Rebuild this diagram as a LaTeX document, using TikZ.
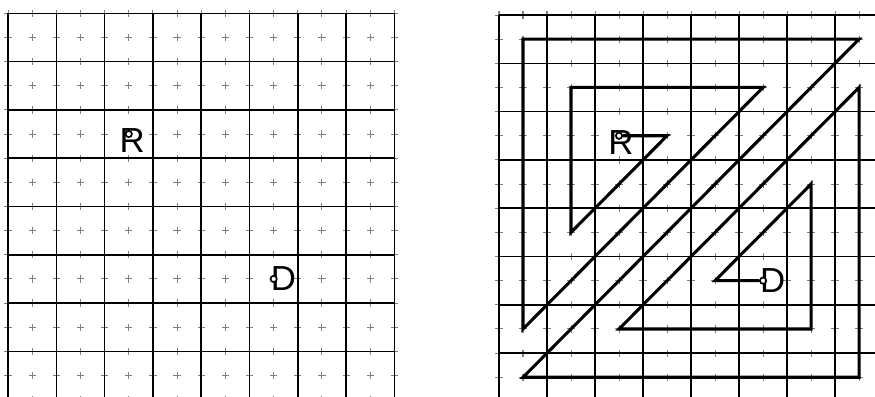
\documentclass[tikz,border=0pt]{standalone}
\usepackage{fontspec}
\setmainfont{Liberation Sans}
\usetikzlibrary{calc}

\begin{document}
\begin{tikzpicture}[
    x=1cm, y=-1cm,
    rejilla/.style={black, line width=0.9pt},
    cruz/.style={gray, line width=0.6pt},
    ruta/.style={black, line width=1.8pt, line join=miter},
    punto/.style={circle, draw=black, fill=white, line width=1pt, inner sep=0pt, minimum size=0.13cm},
    letra/.style={font=\fontsize{20.5}{24}\selectfont, inner sep=0pt}
]
    \useasboundingbox (0,0) rectangle (18.116,8.199);
    \clip (0,0) rectangle (18.116,8.199);

    % --- PANEL 1: CUADRICULA CON R Y D ---
    \begin{scope}[shift={(0.166,0.275)}]
        \foreach \i in {0,...,16} {
            \foreach \j in {0,...,16} {
                \draw[cruz] ({\i/2-0.075},{\j/2}) -- ({\i/2+0.075},{\j/2})
                            ({\i/2},{\j/2-0.075}) -- ({\i/2},{\j/2+0.075});
            }
        }
        \foreach \k in {0,...,8} {
            \draw[rejilla] (\k,0) -- (\k,8.5);
        }
        \foreach \k in {0,...,7} {
            \draw[rejilla] (0,\k) -- (8,\k);
        }
        \node[letra] (etiqR1) at ($(2.5,2.5)+(0.07,0.135)$) {R};
        \node[punto] (origen1) at (2.5,2.5) {};
        \node[letra] (etiqD1) at ($(5.5,5.5)+(0.2,0)$) {D};
        \node[punto] (destino1) at (5.5,5.5) {};
    \end{scope}

    % --- PANEL 2: RECORRIDO EN ESPIRAL ---
    \begin{scope}[shift={(10.331,0.311)}, xscale=0.994]
        \foreach \i in {0,...,16} {
            \foreach \j in {0,...,16} {
                \draw[cruz] ({\i/2-0.075},{\j/2}) -- ({\i/2+0.075},{\j/2})
                            ({\i/2},{\j/2-0.075}) -- ({\i/2},{\j/2+0.075});
            }
        }
        \foreach \k in {0,...,8} {
            \draw[rejilla] (\k,0) -- (\k,8.5);
        }
        \foreach \k in {0,...,7} {
            \draw[rejilla] (0,\k) -- (8,\k);
        }
        \node[letra] (etiqR2) at ($(2.5,2.5)+(0.04,0.15)$) {R};
        \node[punto] (origen2) at (2.5,2.5) {};
        \node[letra] (etiqD2) at ($(5.5,5.5)+(0.2,0)$) {D};
        \node[punto] (destino2) at (5.5,5.5) {};
        \draw[ruta] (origen2) -- (3.5,2.5) -- (1.5,4.5) -- (1.5,1.5) -- (5.5,1.5)
            -- (0.5,6.5) -- (0.5,0.5) -- (7.5,0.5) -- (0.5,7.5) -- (7.5,7.5)
            -- (7.5,1.5) -- (2.5,6.5) -- (6.5,6.5) -- (6.5,3.5) -- (4.5,5.5)
            -- (destino2);
    \end{scope}

\end{tikzpicture}
\end{document}
